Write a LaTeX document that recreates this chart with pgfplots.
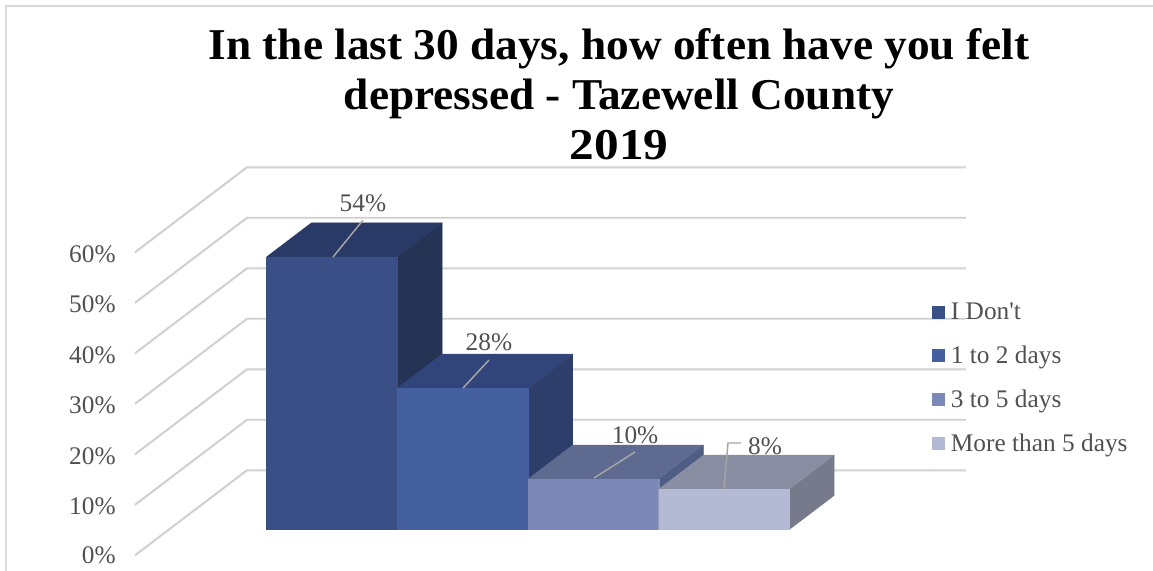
\documentclass[border=0pt]{standalone}
\usepackage{pgfplots}
\pgfplotsset{compat=1.18}
\usepackage{fontspec}
\setmainfont{Liberation Serif}
\newfontfamily\titlefont[FakeStretch=1.03]{Liberation Serif}
\newfontfamily\yearfont[FakeStretch=1.12]{Liberation Serif}
\definecolor{grid}{HTML}{CDCDCD}
\definecolor{txt}{HTML}{505050}
\definecolor{lead}{HTML}{A6A6A6}
\definecolor{fa}{HTML}{3A4F85}\definecolor{ta}{HTML}{2A3A66}\definecolor{sa}{HTML}{253355}
\definecolor{fb}{HTML}{44609E}\definecolor{tb}{HTML}{32457A}\definecolor{sb}{HTML}{2E3E6B}
\definecolor{fc}{HTML}{7B88B8}\definecolor{tc}{HTML}{5E6A8F}\definecolor{sc}{HTML}{4F5C83}
\definecolor{fd}{HTML}{B4B9D4}\definecolor{td}{HTML}{8A8EA3}\definecolor{sd}{HTML}{777A8B}
% left edge, right edge, value, front, top, side
\newcommand{\barbox}[6]{%
  \addplot3[forget plot,fill=#6,draw=#6,line width=.2pt] coordinates {(#2,.3,0) (#2,.7,0) (#2,.7,#3) (#2,.3,#3) (#2,.3,0)};
  \addplot3[forget plot,fill=#5,draw=#5,line width=.2pt] coordinates {(#1,.3,#3) (#1,.7,#3) (#2,.7,#3) (#2,.3,#3) (#1,.3,#3)};
  \addplot3[forget plot,fill=#4,draw=#4,line width=.2pt] coordinates {(#1,.3,0) (#2,.3,0) (#2,.3,#3) (#1,.3,#3) (#1,.3,0)};
}
\newcommand{\gridlevel}[1]{%
  \addplot3[forget plot,draw=grid!55,line width=1.2pt,yshift=-.7pt] coordinates {(0,0,#1) (0,1,#1) (5.5,1,#1)};
  \addplot3[forget plot,draw=grid,line width=1.1pt] coordinates {(0,0,#1) (0,1,#1) (5.5,1,#1)};
}
\begin{document}
\begin{tikzpicture}[x=0.75pt,y=-0.75pt]
\path[use as bounding box] (0,0) rectangle (1153,571);
\draw[draw=black!15,line width=1.1pt] (6,571) -- (6,6) -- (1153,6);
\node[font=\titlefont\bfseries\fontsize{33}{33}\selectfont,anchor=base] at (619,59) {In the last 30 days, how often have you felt};
\node[font=\titlefont\bfseries\fontsize{33}{33}\selectfont,anchor=base] at (619,109) {depressed - Tazewell County};
\node[font=\yearfont\bfseries\fontsize{33}{33}\selectfont,anchor=base] at (619,159) {2019};
\begin{axis}[
  at={(101.25pt,-416.25pt)},anchor=origin,
  x={(98.025pt,0pt)},y={(84pt,63.75pt)},z={(0pt,3.7875pt)},
  xmin=0,xmax=5.5,ymin=0,ymax=1,zmin=0,zmax=60,
  clip=false,
  axis line style={draw=none},
  tick style={draw=none},
  xtick=\empty,ytick=\empty,
  ztick={0,10,20,30,40,50,60},
  zticklabels={0\%,10\%,20\%,30\%,40\%,50\%,60\%},
  zticklabel pos=left,
  tick label style={font=\fontsize{19}{21}\selectfont,text=txt,xshift=-11pt,yshift=5.5pt},
  legend style={at={(axis cs:6.098,0,50.5)},anchor=north west,draw=none,fill=none,
    font=\fontsize{19}{21}\selectfont,text=txt,row sep=14.3pt,inner sep=0pt},
  legend cell align=left,
  legend image code/.code={\fill[#1,draw=none] (0cm,-4.9pt) rectangle (9.8pt,4.9pt);\path[draw=none,fill=none] (0cm,0cm) -- (12pt,0cm);},
]
\gridlevel{0}\gridlevel{10}\gridlevel{20}\gridlevel{30}\gridlevel{40}\gridlevel{50}\gridlevel{60}
\barbox{0.75}{1.75}{54}{fa}{ta}{sa}
\barbox{1.75}{2.75}{28}{fb}{tb}{sb}
\barbox{2.75}{3.75}{10}{fc}{tc}{sc}
\barbox{3.75}{4.75}{8}{fd}{td}{sd}
\addplot3[forget plot,draw=lead,line width=1.1pt] coordinates {(1.515,0,59.0) (1.744,0,66.3)};
\addplot3[forget plot,draw=lead,line width=1.1pt] coordinates {(2.51,0,33.07) (2.708,0,38.6)};
\addplot3[forget plot,draw=lead,line width=1.1pt] coordinates {(3.512,0,15.25) (3.826,0,20.4)};
\addplot3[forget plot,draw=lead,line width=1.1pt] coordinates {(4.507,0,13.27) (4.537,0,22.18) (4.637,0,22.18)};
\node[font=\fontsize{19}{21}\selectfont,text=txt] at (axis cs:1.744,0,69.7) {54\%};
\node[font=\fontsize{19}{21}\selectfont,text=txt] at (axis cs:2.708,0,42.2) {28\%};
\node[font=\fontsize{19}{21}\selectfont,text=txt] at (axis cs:3.826,0,23.76) {10\%};
\node[font=\fontsize{19}{21}\selectfont,text=txt] at (axis cs:4.82,0,21.58) {8\%};
\addlegendimage{fill=fa}\addlegendentry{I Don\textquotesingle t}
\addlegendimage{fill=fb}\addlegendentry{1 to 2 days}
\addlegendimage{fill=fc}\addlegendentry{3 to 5 days}
\addlegendimage{fill=fd}\addlegendentry{More than 5 days}
\end{axis}
\end{tikzpicture}
\end{document}
